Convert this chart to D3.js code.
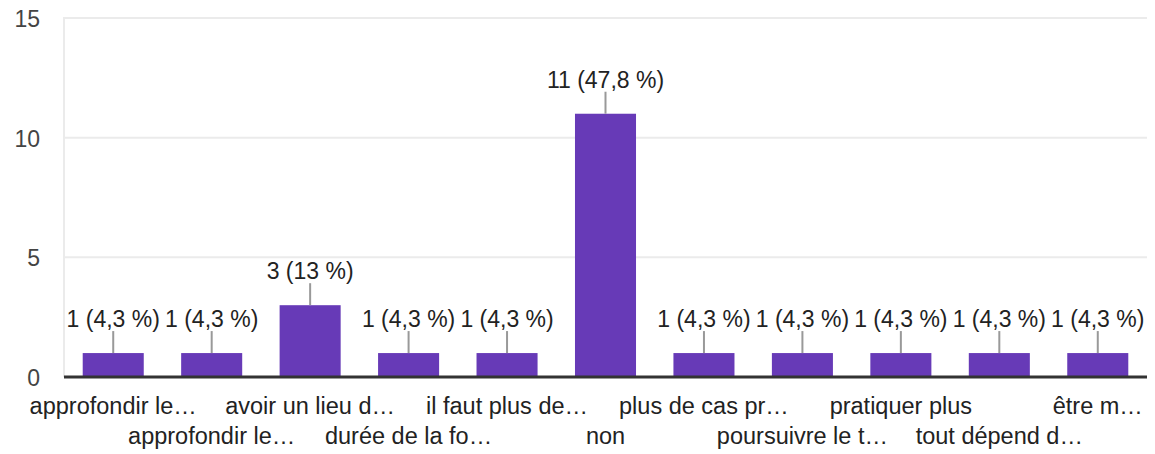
<!DOCTYPE html>
<html>
<head>
<meta charset="utf-8">
<script src="https://cdn.jsdelivr.net/npm/d3@7"></script>
<style>
  body { margin: 0; background: #fff; }
  svg { display: block; font-family: "Liberation Sans", Arial, sans-serif; }
  .grid line { stroke: #ebebeb; stroke-width: 2; }
  .tick-label { fill: #444; font-size: 23px; }
  .cat-label { fill: #222; font-size: 23.5px; }
  .bar-label { fill: #222; font-size: 23px; }
  .leader { stroke: #999; stroke-width: 2; }
</style>
</head>
<body>
<div class="chart-container"></div>
<script>
// categories (as shown, truncated)
var categories = [
  'approfondir le\u2026',
  'approfondir le\u2026',
  'avoir un lieu d\u2026',
  'dur\u00e9e de la fo\u2026',
  'il faut plus de\u2026',
  'non',
  'plus de cas pr\u2026',
  'poursuivre le t\u2026',
  'pratiquer plus',
  'tout d\u00e9pend d\u2026',
  '\u00eatre m\u2026'
];
var counts = [1, 1, 3, 1, 1, 11, 1, 1, 1, 1, 1];
var percents = ['4,3', '4,3', '13', '4,3', '4,3', '47,8', '4,3', '4,3', '4,3', '4,3', '4,3'];
var yTicks = [0, 5, 10, 15];

var width = 1155;
var height = 454;
var margin = { top: 18, right: 8, bottom: 77, left: 64 };

var svg = d3.select('.chart-container').append('svg')
  .attr('width', width)
  .attr('height', height);

var x = d3.scaleBand()
  .domain(d3.range(categories.length))
  .range([margin.left, width - margin.right])
  .paddingInner(0.38)
  .paddingOuter(0.19);

var y = d3.scaleLinear()
  .domain([0, 15])
  .range([height - margin.bottom, margin.top]);

// gridlines
var grid = svg.append('g').attr('class', 'grid');
grid.selectAll('.h')
  .data(yTicks.filter(function (d) { return d > 0; }))
  .enter()
  .append('line')
    .attr('class', 'h')
    .attr('x1', margin.left)
    .attr('x2', width - margin.right)
    .attr('y1', function (d) { return y(d); })
    .attr('y2', function (d) { return y(d); });

grid.append('line')
  .attr('x1', margin.left)
  .attr('x2', margin.left)
  .attr('y1', y(15) - 1)
  .attr('y2', y(0));

// y tick labels
svg.selectAll('.tick-label')
  .data(yTicks)
  .enter()
  .append('text')
    .attr('class', 'tick-label')
    .attr('text-anchor', 'end')
    .attr('x', 40)
    .attr('y', function (d) { return y(d) + 9; })
    .text(function (d) { return d; });

// bars
svg.selectAll('.bar')
  .data(counts)
  .enter()
  .append('rect')
    .attr('class', 'bar')
    .attr('fill', '#673ab7')
    .attr('x', function (d, i) { return x(i); })
    .attr('width', x.bandwidth())
    .attr('y', function (d) { return y(d); })
    .attr('height', function (d) { return y(0) - y(d); });

// leader lines
svg.selectAll('.leader')
  .data(counts)
  .enter()
  .append('line')
    .attr('class', 'leader')
    .attr('x1', function (d, i) { return x(i) + x.bandwidth() / 2; })
    .attr('x2', function (d, i) { return x(i) + x.bandwidth() / 2; })
    .attr('y1', function (d) { return y(d); })
    .attr('y2', function (d) { return y(d) - 22; });

// bar labels
svg.selectAll('.bar-label')
  .data(counts)
  .enter()
  .append('text')
    .attr('class', 'bar-label')
    .attr('text-anchor', 'middle')
    .attr('x', function (d, i) { return x(i) + x.bandwidth() / 2; })
    .attr('y', function (d) { return y(d) - 26; })
    .text(function (d, i) { return d + ' (' + percents[i] + ' %)'; });

// axis baseline
svg.append('line')
  .attr('x1', margin.left)
  .attr('x2', width - margin.right)
  .attr('y1', y(0))
  .attr('y2', y(0))
  .attr('stroke', '#333')
  .attr('stroke-width', 3);

// category labels, staggered in two rows
svg.selectAll('.cat-label')
  .data(categories)
  .enter()
  .append('text')
    .attr('class', 'cat-label')
    .attr('text-anchor', 'middle')
    .attr('x', function (d, i) { return x(i) + x.bandwidth() / 2; })
    .attr('y', function (d, i) { return y(0) + (i % 2 === 0 ? 37 : 67); })
    .text(function (d) { return d; });
</script>
</body>
</html>
